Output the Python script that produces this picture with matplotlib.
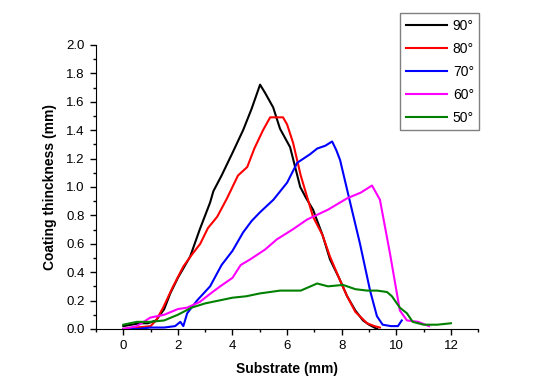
import numpy as np
import matplotlib.pyplot as plt
from matplotlib.ticker import MultipleLocator

plt.rcParams['font.family'] = ['Liberation Sans', 'DejaVu Sans']

# data (x in mm, thickness in mm)
x90 = [0.0, 0.3, 0.6, 0.9, 1.2, 1.5, 1.72, 2.0, 2.45, 2.8, 3.18, 3.3, 3.6, 4.0, 4.39, 4.7, 5.01,
       5.2, 5.49, 5.74, 6.11, 6.48, 6.7, 6.95, 7.3, 7.57, 7.9, 8.2, 8.5, 8.78, 9.0, 9.3]
y90 = [0.02, 0.03, 0.04, 0.04, 0.06, 0.14, 0.25, 0.36, 0.51, 0.70, 0.89, 0.97, 1.08, 1.24, 1.40, 1.55, 1.72,
       1.66, 1.56, 1.41, 1.28, 1.00, 0.92, 0.84, 0.66, 0.49, 0.36, 0.23, 0.13, 0.06, 0.03, 0.0]

x80 = [0.0, 0.5, 1.0, 1.2, 1.46, 1.8, 2.2, 2.5, 2.82, 3.1, 3.44, 3.8, 4.2, 4.54, 4.8, 5.12, 5.38,
       5.6, 5.85, 6.0, 6.22, 6.5, 6.95, 7.3, 7.57, 7.9, 8.2, 8.5, 8.93, 9.2, 9.4]
y80 = [0.0, 0.01, 0.02, 0.06, 0.15, 0.29, 0.44, 0.52, 0.60, 0.71, 0.79, 0.92, 1.08, 1.14, 1.27, 1.40, 1.49,
       1.49, 1.49, 1.44, 1.31, 1.08, 0.79, 0.66, 0.51, 0.36, 0.23, 0.12, 0.04, 0.02, 0.01]

x70 = [0.0, 0.5, 1.0, 1.5, 1.9, 2.09, 2.2, 2.34, 2.7, 3.18, 3.6, 4.0, 4.39, 4.7, 5.0, 5.5, 6.0,
       6.37, 6.84, 7.1, 7.4, 7.65, 7.8, 7.94, 8.31, 8.67, 9.04, 9.29, 9.5, 9.8, 10.06, 10.2]
y70 = [0.0, 0.0, 0.01, 0.01, 0.02, 0.05, 0.02, 0.11, 0.20, 0.30, 0.45, 0.55, 0.68, 0.76, 0.82, 0.91, 1.03,
       1.17, 1.23, 1.27, 1.29, 1.32, 1.26, 1.19, 0.89, 0.60, 0.27, 0.09, 0.03, 0.02, 0.02, 0.06]

x60 = [0.0, 0.5, 0.99, 1.5, 2.0, 2.34, 2.8, 3.2, 3.55, 4.0, 4.3, 4.65, 5.2, 5.62, 6.2, 6.73, 6.95,
       7.5, 8.2, 8.7, 9.11, 9.4, 9.77, 10.13, 10.39, 10.8, 11.2]
y60 = [0.0, 0.02, 0.08, 0.10, 0.14, 0.15, 0.19, 0.25, 0.30, 0.36, 0.45, 0.49, 0.56, 0.63, 0.70, 0.77, 0.79,
       0.84, 0.92, 0.96, 1.01, 0.91, 0.53, 0.13, 0.06, 0.05, 0.02]

x50 = [0.0, 0.5, 1.0, 1.5, 2.0, 2.5, 3.0, 3.5, 4.0, 4.5, 5.0, 5.74, 6.5, 7.1, 7.5, 8.05, 8.5,
       8.93, 9.3, 9.66, 9.84, 10.13, 10.39, 10.6, 11.0, 11.5, 12.0]
y50 = [0.03, 0.05, 0.05, 0.06, 0.10, 0.15, 0.18, 0.20, 0.22, 0.23, 0.25, 0.27, 0.27, 0.32, 0.30, 0.31, 0.28,
       0.27, 0.27, 0.26, 0.23, 0.15, 0.11, 0.05, 0.03, 0.03, 0.04]

series = [(x90, y90, '90°', 'black'),
          (x80, y80, '80°', 'red'),
          (x70, y70, '70°', 'blue'),
          (x60, y60, '60°', 'magenta'),
          (x50, y50, '50°', 'green')]

fig = plt.figure(figsize=(5.58, 3.87), dpi=100)
ax = fig.add_axes([0.172, 0.150, 0.685, 0.734])

for x, y, lab, c in series:
    ax.plot(x, y, color=c, lw=1.5, label=lab)

ax.set_xlim(-1, 13)
ax.set_ylim(0, 2.0)
ax.set_xticks([0, 2, 4, 6, 8, 10, 12])
ax.set_xticks(np.arange(-1, 13.5, 1), minor=True)
ax.yaxis.set_major_locator(MultipleLocator(0.2))
ax.yaxis.set_minor_locator(MultipleLocator(0.1))
ax.yaxis.set_major_formatter(plt.FormatStrFormatter('%.1f'))
ax.spines['top'].set_visible(False)
ax.spines['right'].set_visible(False)
ax.tick_params(which='major', direction='out', length=4.5, width=1, labelsize=9.5)
ax.tick_params(which='minor', direction='out', length=2.5, width=1)
ax.set_xlabel('Substrate (mm)', fontsize=10, fontweight='bold', labelpad=7)
ax.set_ylabel('Coating thinckness (mm)', fontsize=10, fontweight='bold', labelpad=7)

leg = ax.legend(loc='upper left', bbox_to_anchor=(400/558, 1-13/387), bbox_transform=fig.transFigure,
                borderaxespad=0, fancybox=False, edgecolor='grey', fontsize=10, handlelength=3,
                labelspacing=0.65, handletextpad=0.4, framealpha=1)
leg.get_frame().set_linewidth(1)

fig.savefig('out.png', dpi=100)
